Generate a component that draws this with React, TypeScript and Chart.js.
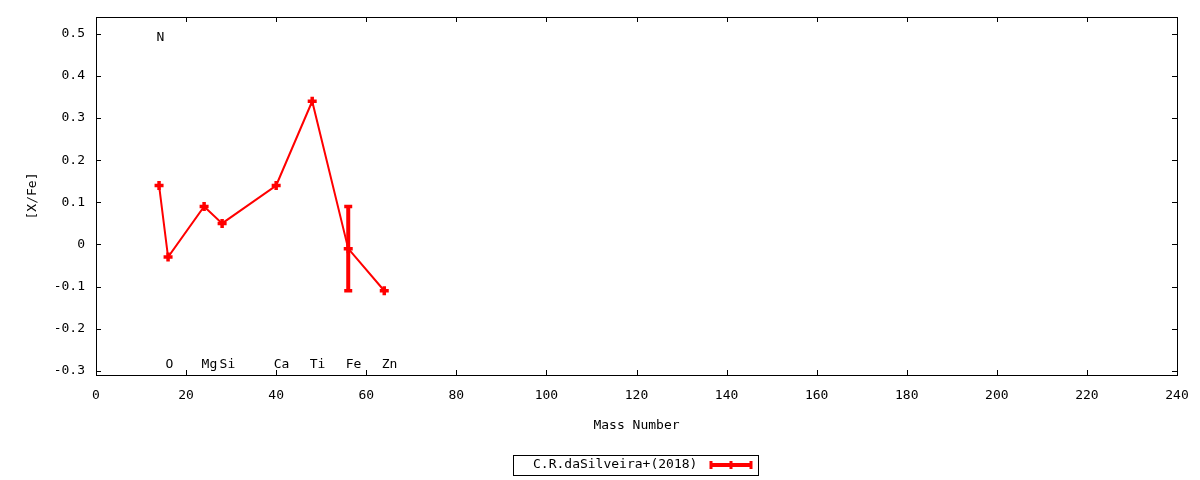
import React, { useEffect, useRef } from "react";
import { Chart, registerables } from "chart.js";

Chart.register(...registerables);

// ---- data ----
const elements = ["N", "O", "Mg", "Si", "Ca", "Ti", "Fe", "Zn"];
const massNumbers = [14, 16, 24, 28, 40, 48, 56, 64];
const xFeValues = [0.14, -0.03, 0.09, 0.05, 0.14, 0.34, -0.01, -0.11];
const errLow: (number | null)[] = [null, null, null, null, null, null, -0.11, null];
const errHigh: (number | null)[] = [null, null, null, null, null, null, 0.09, null];

const labelNames = ["N", "O", "Mg", "Si", "Ca", "Ti", "Fe", "Zn"];
const labelX = [14, 16, 24, 28, 40, 48, 56, 64];
const labelY = [0.492, -0.285, -0.285, -0.285, -0.285, -0.285, -0.285, -0.285];

const seriesName = "C.R.daSilveira+(2018)";
const xTitle = "Mass Number";
const yTitle = "[X/Fe]";
const xMin = 0;
const xMax = 240;
const xStep = 20;
const yMin = -0.31;
const yMax = 0.54;
const yStep = 0.1;

const FONT = "'DejaVu Sans Mono', monospace";
const RED = "#ff0000";

const decorPlugin = {
  id: "gnuplotDecor",
  afterDatasetsDraw(chart: any) {
    const { ctx, scales } = chart;
    const xs = scales.x;
    const ys = scales.y;
    ctx.save();
    ctx.strokeStyle = RED;
    for (let i = 0; i < massNumbers.length; i++) {
      const lo = errLow[i];
      const hi = errHigh[i];
      if (lo === null || hi === null) continue;
      const px = xs.getPixelForValue(massNumbers[i]);
      const pLo = ys.getPixelForValue(lo);
      const pHi = ys.getPixelForValue(hi);
      ctx.lineWidth = 4;
      ctx.beginPath();
      ctx.moveTo(px, pLo);
      ctx.lineTo(px, pHi);
      ctx.stroke();
      ctx.lineWidth = 3.5;
      ctx.beginPath();
      ctx.moveTo(px - 4, pLo);
      ctx.lineTo(px + 4, pLo);
      ctx.moveTo(px - 4, pHi);
      ctx.lineTo(px + 4, pHi);
      ctx.stroke();
    }
    ctx.restore();
  },
  afterDraw(chart: any) {
    const { ctx, chartArea, scales } = chart;
    const xs = scales.x;
    const ys = scales.y;
    const { left, right, top, bottom } = chartArea;
    ctx.save();
    ctx.strokeStyle = "#000";
    ctx.lineWidth = 1;
    ctx.strokeRect(Math.round(left) + 0.5, Math.round(top) + 0.5, Math.round(right - left), Math.round(bottom - top));
    const tl = 5;
    ctx.beginPath();
    xs.ticks.forEach((t: any) => {
      const px = Math.round(xs.getPixelForValue(t.value)) + 0.5;
      ctx.moveTo(px, bottom);
      ctx.lineTo(px, bottom - tl);
      ctx.moveTo(px, top);
      ctx.lineTo(px, top + tl);
    });
    ys.ticks.forEach((t: any) => {
      const py = Math.round(ys.getPixelForValue(t.value)) + 0.5;
      ctx.moveTo(left, py);
      ctx.lineTo(left + tl, py);
      ctx.moveTo(right, py);
      ctx.lineTo(right - tl, py);
    });
    ctx.stroke();
    ctx.fillStyle = "#000";
    ctx.font = `13px ${FONT}`;
    ctx.textAlign = "left";
    ctx.textBaseline = "middle";
    for (let i = 0; i < labelNames.length; i++) {
      const px = xs.getPixelForValue(labelX[i]) - 2.5;
      const py = ys.getPixelForValue(labelY[i]);
      ctx.fillText(labelNames[i], px, py);
    }
    const bx = 513.5, by = 455.5, bw = 245, bh = 20;
    ctx.strokeRect(bx, by, bw, bh);
    ctx.fillText(seriesName, 533, 465);
    ctx.strokeStyle = RED;
    ctx.lineWidth = 4;
    ctx.beginPath();
    ctx.moveTo(711, 465);
    ctx.lineTo(751, 465);
    ctx.stroke();
    ctx.lineWidth = 3;
    ctx.beginPath();
    ctx.moveTo(711, 461);
    ctx.lineTo(711, 469);
    ctx.moveTo(751, 461);
    ctx.lineTo(751, 469);
    ctx.moveTo(731, 461);
    ctx.lineTo(731, 469);
    ctx.stroke();
    ctx.restore();
  },
};

export default function App() {
  const ref = useRef<HTMLCanvasElement | null>(null);
  useEffect(() => {
    if (!ref.current) return;
    const chart = new Chart(ref.current, {
      type: "line",
      data: {
        datasets: [
          {
            label: seriesName,
            data: massNumbers.map((m, i) => ({ x: m, y: xFeValues[i] })),
            borderColor: RED,
            backgroundColor: RED,
            borderWidth: 2,
            tension: 0,
            pointStyle: "cross",
            pointRadius: 4.5,
            pointBorderWidth: 3.5,
            pointBorderColor: RED,
            pointHoverRadius: 4.5,
            fill: false,
          },
        ],
      },
      options: {
        animation: false,
        responsive: false,
        maintainAspectRatio: false,
        events: [],
        layout: { padding: { left: 0, top: 17, right: 23, bottom: 0 } },
        plugins: {
          legend: { display: false },
          tooltip: { enabled: false },
        },
        scales: {
          x: {
            type: "linear",
            min: xMin,
            max: xMax,
            afterFit: (s: any) => {
              s.height = 105;
            },
            ticks: {
              stepSize: xStep,
              color: "#000",
              font: { family: FONT, size: 13 },
              padding: 0,
              maxRotation: 0,
              includeBounds: false,
            },
            grid: { display: false, drawTicks: true, tickLength: 13 },
            border: { display: false },
            title: {
              display: true,
              text: xTitle,
              color: "#000",
              font: { family: FONT, size: 13 },
              padding: { top: 0, bottom: 47 },
            },
          },
          y: {
            type: "linear",
            min: yMin,
            max: yMax,
            afterFit: (s: any) => {
              s.width = 96;
            },
            ticks: {
              stepSize: yStep,
              color: "#000",
              font: { family: FONT, size: 13 },
              padding: 0,
              includeBounds: false,
              callback: (v: any) => String(Number(Number(v).toFixed(1))),
            },
            grid: { display: false, drawTicks: true, tickLength: 11 },
            border: { display: false },
            title: {
              display: true,
              text: yTitle,
              color: "#000",
              font: { family: FONT, size: 13 },
              padding: { top: 25, bottom: 0 },
            },
          },
        },
      },
      plugins: [decorPlugin],
    });
    return () => chart.destroy();
  }, []);
  return (
    <div style={{ position: "fixed", left: 0, top: 0, width: 1200, height: 480, background: "#fff" }}>
      <canvas ref={ref} width={1200} height={480} style={{ display: "block", width: 1200, height: 480 }} />
    </div>
  );
}
